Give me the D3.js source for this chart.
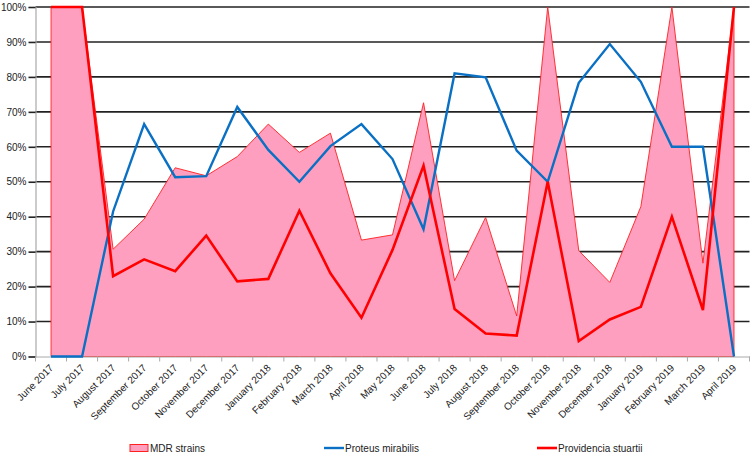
<!DOCTYPE html>
<html>
<head>
<meta charset="utf-8">
<script src="https://cdn.jsdelivr.net/npm/d3@7"></script>
<style>
  body { margin: 0; background: #fff; }
  text { font-family: "Liberation Sans", Arial, sans-serif; }
</style>
</head>
<body>
<div id="chart"></div>
<script>
// months on the x axis
var months = ["June 2017", "July 2017", "August 2017", "September 2017", "October 2017",
  "November 2017", "December 2017", "January 2018", "February 2018", "March 2018",
  "April 2018", "May 2018", "June 2018", "July 2018", "August 2018", "September 2018",
  "October 2018", "November 2018", "December 2018", "January 2019", "February 2019",
  "March 2019", "April 2019"];

// series values (percent)
var mdrStrains = [100, 100, 30.7, 39.3, 54, 51.7, 57.2, 66.5, 58.4, 63.9, 33.3, 34.8,
  72.6, 21.7, 39.8, 11.6, 100, 30.3, 21.2, 42.9, 100, 26.7, 100];
var proteus = [0, 0, 41.5, 66.5, 51.3, 51.6, 71.4, 59.1, 50, 60.2, 66.5, 56.5,
  36.4, 81, 79.9, 58.9, 50, 78.3, 89.4, 78.6, 60, 60, 0];
var providencia = [100, 100, 23, 27.8, 24.4, 34.6, 21.5, 22.2, 41.7, 23.8, 11.1, 30.5,
  54.6, 13.6, 6.6, 6, 50, 4.4, 10.6, 14.2, 40, 13.3, 100];

var yTicks = [0, 10, 20, 30, 40, 50, 60, 70, 80, 90, 100];

var W = 753, H = 455;
var plotL = 35.5, plotR = 749.5, plotT = 7, plotB = 356.5;

var svg = d3.select("#chart").append("svg")
  .attr("width", W)
  .attr("height", H);

var x = d3.scaleBand().domain(months).range([plotL, plotR]);
var y = d3.scaleLinear().domain([0, 100]).range([plotB, plotT]);
var cx = function(i) { return x(months[i]) + x.bandwidth() / 2; };

// grid lines
svg.append("g")
  .selectAll("line")
  .data(yTicks.filter(function(d) { return d > 0; }))
  .enter().append("line")
  .attr("x1", plotL).attr("x2", plotR)
  .attr("y1", function(d) { return y(d); })
  .attr("y2", function(d) { return y(d); })
  .attr("stroke", "#222")
  .attr("stroke-width", 1.6);

// MDR area
var area = d3.area()
  .x(function(d, i) { return cx(i); })
  .y0(y(0))
  .y1(function(d) { return y(d); });

svg.append("path")
  .datum(mdrStrains)
  .attr("d", area)
  .attr("fill", "#ff9fc0")
  .attr("stroke", "#ff2020")
  .attr("stroke-width", 0.9);

// y axis
var yAxis = d3.axisLeft(y)
  .tickValues(yTicks)
  .tickSize(7)
  .tickFormat(function(d) { return d + "%"; });

var gy = svg.append("g")
  .attr("transform", "translate(" + plotL + ",0)")
  .call(yAxis);
gy.select(".domain").attr("stroke", "#aaa").attr("stroke-width", 1.2);
gy.selectAll(".tick line").attr("stroke", "#222").attr("stroke-width", 1.6);
gy.selectAll(".tick text")
  .attr("x", -9)
  .attr("fill", "#222")
  .style("font-size", "10px")
  .style("font-family", "Liberation Sans, Arial, sans-serif");

// x axis
var xAxis = d3.axisBottom(x).tickSize(0).tickSizeOuter(0);
var gx = svg.append("g")
  .attr("transform", "translate(0," + plotB + ")")
  .call(xAxis);
gx.select(".domain").attr("stroke", "#aaa").attr("stroke-width", 1.2);
gx.selectAll(".tick text")
  .attr("fill", "#222")
  .style("font-size", "10px")
  .style("font-family", "Liberation Sans, Arial, sans-serif")
  .style("text-anchor", "end")
  .attr("dy", null)
  .attr("y", 0)
  .attr("transform", "translate(3,12) rotate(-45)");

// x tick marks at band boundaries
gx.append("g")
  .selectAll("line")
  .data(d3.range(months.length + 1))
  .enter().append("line")
  .attr("x1", function(i) { return plotL + i * x.bandwidth(); })
  .attr("x2", function(i) { return plotL + i * x.bandwidth(); })
  .attr("y1", 0).attr("y2", 5)
  .attr("stroke", "#aaa")
  .attr("stroke-width", 1);

// lines
var line = d3.line()
  .x(function(d, i) { return cx(i); })
  .y(function(d) { return y(d); });

svg.append("path")
  .datum(proteus)
  .attr("d", line)
  .attr("fill", "none")
  .attr("stroke", "#0a70c4")
  .attr("stroke-width", 2.4);

svg.append("path")
  .datum(providencia)
  .attr("d", line)
  .attr("fill", "none")
  .attr("stroke", "#ff0000")
  .attr("stroke-width", 2.6);

// legend
var legend = svg.append("g").attr("transform", "translate(0,448)");

legend.append("rect")
  .attr("x", 130).attr("y", -3.5)
  .attr("width", 18).attr("height", 7)
  .attr("fill", "#ff9fc0")
  .attr("stroke", "#ff2020")
  .attr("stroke-width", 1);
legend.append("text")
  .attr("x", 150).attr("y", 3.5)
  .style("font-size", "10px").attr("fill", "#222")
  .text("MDR strains");

legend.append("line")
  .attr("x1", 324).attr("x2", 344).attr("y1", 0).attr("y2", 0)
  .attr("stroke", "#0a70c4").attr("stroke-width", 2.4);
legend.append("text")
  .attr("x", 345).attr("y", 3.5)
  .style("font-size", "10px").attr("fill", "#222")
  .text("Proteus mirabilis");

legend.append("line")
  .attr("x1", 537).attr("x2", 557).attr("y1", 0).attr("y2", 0)
  .attr("stroke", "#ff0000").attr("stroke-width", 2.6);
legend.append("text")
  .attr("x", 558).attr("y", 3.5)
  .style("font-size", "10px").attr("fill", "#222")
  .text("Providencia stuartii");
</script>
</body>
</html>
